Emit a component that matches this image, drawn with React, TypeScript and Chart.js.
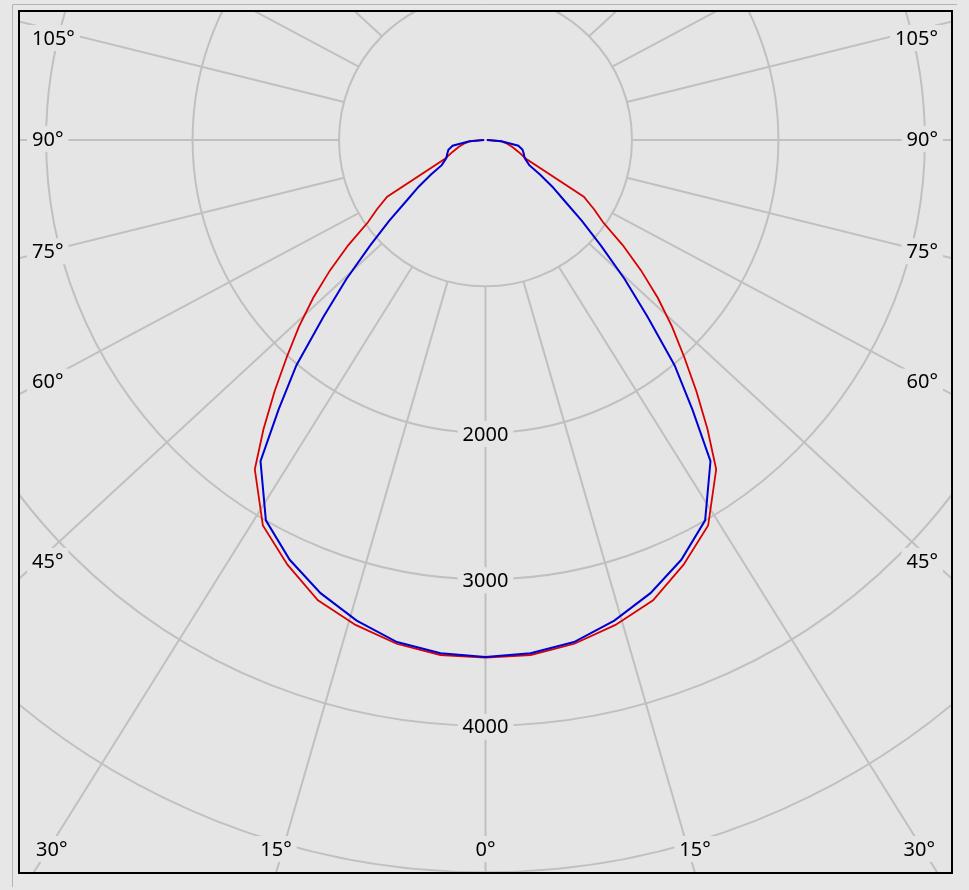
import React, { useEffect, useRef } from "react";
import { Chart, registerables } from "chart.js";

Chart.register(...registerables);

// Polar angles (degrees from nadir) at which intensities were read
const angles = [0, 5, 10, 15, 20, 25, 30, 35, 37.5, 40, 42.5, 45, 47.5, 50, 52.5, 55, 57.5, 60, 65, 70, 75, 80, 85, 90];
// Luminous intensity, cd — C0/C180 plane (red)
const planeC0C180 = [3535, 3530, 3493, 3428, 3345, 3200, 3040, 2746, 2490, 2240, 2006, 1800, 1595, 1386, 1182, 980, 877, 775, 305, 240, 190, 150, 105, 8];
// Luminous intensity, cd — C90/C270 plane (blue)
const planeC90C270 = [3531, 3518, 3481, 3398, 3293, 3163, 2999, 2678, 2321, 2008, 1636, 1343, 1069, 859, 674, 557, 441, 345, 295, 278, 262, 228, 110, 10];

// Grid
const ringValues = [1000, 2000, 3000, 4000, 5000, 6000, 7000];
const ringLabelValues = [2000, 3000, 4000];
const spokeAngles = [0, 15, 30, 45, 60, 75, 90, 105, 120, 135, 150, 165, 180, 195, 210, 225, 240, 255, 270, 285, 300, 315, 330, 345];
const angleLabelValues = [0, 15, 30, 45, 60, 75, 90, 105];

const FONT = '20px "Noto Sans", "DejaVu Sans", sans-serif';
const PLOT_BG = "#e5e5e5";
const PAGE_BG = "#e7e7e7";
const GRID = "#c0c0c0";

function curvePoints(values: number[]) {
  const toRad = (a: number) => (a * Math.PI) / 180;
  const left = angles.map((a, i) => ({ x: -values[i] * Math.sin(toRad(a)), y: -values[i] * Math.cos(toRad(a)) })).reverse();
  const right = angles.map((a, i) => ({ x: values[i] * Math.sin(toRad(a)), y: -values[i] * Math.cos(toRad(a)) }));
  return [...left, ...right.slice(1)];
}

function boxedText(ctx: CanvasRenderingContext2D, text: string, xc: number, yc: number) {
  ctx.font = FONT;
  const w = ctx.measureText(text).width;
  ctx.fillStyle = PLOT_BG;
  ctx.fillRect(xc - w / 2 - 5, yc - 13, w + 10, 26);
  ctx.fillStyle = "#000";
  ctx.textAlign = "center";
  ctx.textBaseline = "middle";
  ctx.fillText(text, xc, yc + 1);
}

const polarGrid = {
  id: "polarGrid",
  beforeDatasetsDraw(chart: any) {
    const { ctx, chartArea, scales } = chart;
    const { left, top, right, bottom } = chartArea;
    const xs = scales.x;
    const ys = scales.y;
    const cx = xs.getPixelForValue(0);
    const cy = ys.getPixelForValue(0);
    const pxPer = xs.getPixelForValue(1) - cx;
    const r1 = ringValues[0] * pxPer;
    const k = (right - left) / (bottom - top);
    ctx.save();
    ctx.fillStyle = PLOT_BG;
    ctx.fillRect(left, top, right - left, bottom - top);
    ctx.beginPath();
    ctx.rect(left, top, right - left, bottom - top);
    ctx.clip();
    ctx.strokeStyle = GRID;
    ctx.lineWidth = 2;
    for (const r of ringValues) {
      ctx.beginPath();
      ctx.arc(cx, cy, r * pxPer, 0, Math.PI * 2);
      ctx.stroke();
    }
    for (const a of spokeAngles) {
      const rad = (a * Math.PI) / 180;
      const sx = cx + r1 * Math.sin(rad);
      const sy = cy + r1 * Math.cos(rad);
      ctx.beginPath();
      ctx.moveTo(sx, sy);
      ctx.lineTo(sx + 3000 * Math.sin(rad) * k, sy + 3000 * Math.cos(rad));
      ctx.stroke();
    }
    for (const v of ringLabelValues) {
      boxedText(ctx, String(v), cx, cy + v * pxPer + 1);
    }
    ctx.font = FONT;
    for (const a of angleLabelValues) {
      for (const side of [-1, 1]) {
        if (a === 0 && side === 1) continue;
        const rad = (a * Math.PI) / 180;
        const sx = cx + side * r1 * Math.sin(rad);
        const sy = cy + r1 * Math.cos(rad);
        const dx = side * Math.sin(rad) * k;
        const dy = Math.cos(rad);
        const len = Math.hypot(dx, dy);
        const txt = a + "°";
        const w = ctx.measureText(txt).width;
        let xc: number;
        let yc: number;
        if (a <= 30) {
          yc = bottom - 24;
          xc = a === 0 ? cx : sx + ((bottom - sy) / dy) * dx;
          xc = Math.max(left + 17 + w / 2, Math.min(right - 17 - w / 2, xc));
        } else {
          const edgeX = side < 0 ? left : right;
          const crossY = sy + ((edgeX - sx) / dx) * dy;
          yc = crossY - (25 * dy) / len - 1;
          xc = side < 0 ? left + 13 + w / 2 : right - 14 - w / 2;
          yc = Math.max(top + 27, Math.min(bottom - 24, yc));
        }
        boxedText(ctx, txt, xc, yc);
      }
    }
    ctx.restore();
  },
  afterDraw(chart: any) {
    const { ctx, chartArea } = chart;
    const { left, top, right, bottom } = chartArea;
    ctx.save();
    ctx.strokeStyle = "#000";
    ctx.lineWidth = 2;
    ctx.strokeRect(left, top, right - left, bottom - top);
    ctx.strokeStyle = "#b4b4b4";
    ctx.lineWidth = 1;
    ctx.beginPath();
    ctx.moveTo(left - 6.5, bottom + 14);
    ctx.lineTo(left - 6.5, top - 6.5);
    ctx.lineTo(right + 5, top - 6.5);
    ctx.stroke();
    ctx.restore();
  },
};

export default function App() {
  const canvasRef = useRef<HTMLCanvasElement | null>(null);
  useEffect(() => {
    if (!canvasRef.current) return;
    const chart = new Chart(canvasRef.current, {
      type: "scatter",
      data: {
        datasets: [
          {
            label: "C90 - C270",
            data: curvePoints(planeC90C270),
            showLine: true,
            borderColor: "#0000d2",
            borderWidth: 2,
            pointRadius: 0,
            tension: 0,
          },
          {
            label: "C0 - C180",
            data: curvePoints(planeC0C180),
            showLine: true,
            borderColor: "#d80000",
            borderWidth: 1.8,
            pointRadius: 0,
            tension: 0,
          },
        ],
      },
      options: {
        responsive: false,
        animation: false,
        devicePixelRatio: 1,
        layout: { padding: { left: 19, top: 11, right: 17, bottom: 17 } },
        scales: {
          x: { type: "linear", min: -3185, max: 3185, display: false },
          y: { type: "linear", min: -5005, max: 880, display: false },
        },
        plugins: { legend: { display: false }, tooltip: { enabled: false } },
      },
      plugins: [polarGrid],
    });
    return () => chart.destroy();
  }, []);
  return (
    <div style={{ position: "fixed", left: 0, top: 0, width: 969, height: 890, background: PAGE_BG }}>
      <canvas ref={canvasRef} width={969} height={890} style={{ width: 969, height: 890, display: "block" }} />
    </div>
  );
}
